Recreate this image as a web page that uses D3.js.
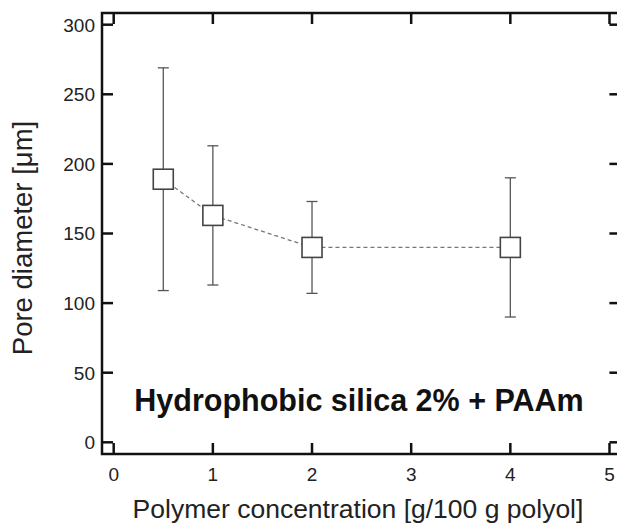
<!DOCTYPE html>
<html>
<head>
<meta charset="utf-8">
<script src="https://cdn.jsdelivr.net/npm/d3@7"></script>
<style>
  html, body { margin: 0; padding: 0; background: #fff; }
  svg { display: block; font-family: "Liberation Sans", Arial, sans-serif; }
</style>
</head>
<body>
<svg id="chart" width="617" height="525"></svg>
<script>
// data
const concentration = [0.5, 1, 2, 4];
const poreDiameter = [189, 163, 140, 140];
const poreError = [80, 50, 33, 50];
const xTicks = [0, 1, 2, 3, 4, 5];
const yTicks = [0, 50, 100, 150, 200, 250, 300];
const annotation = "Hydrophobic silica 2% + PAAm";

function drawPoreChart() {
    const svg = d3.select("#chart");

    const left = 102, right = 620.4, top = 13, bottom = 454;

    const xScale = d3.scaleLinear().domain([-0.118, 5.11]).range([left, right]);
    const yScale = d3.scaleLinear().domain([-8.4, 308.4]).range([bottom, top]);

    const data = concentration.map((c, i) => ({ x: c, y: poreDiameter[i], e: poreError[i] }));

    const tickLen = 11;
    const axisColor = "#111";
    const axisWidth = 2.5;

    // inward ticks on all four sides
    const ticks = svg.append("g")
        .attr("stroke", axisColor)
        .attr("stroke-width", axisWidth);

    ticks.selectAll(".xb").data(xTicks).join("line")
        .attr("class", "xb")
        .attr("x1", d => xScale(d)).attr("x2", d => xScale(d))
        .attr("y1", bottom).attr("y2", bottom - tickLen);
    ticks.selectAll(".xt").data(xTicks).join("line")
        .attr("class", "xt")
        .attr("x1", d => xScale(d)).attr("x2", d => xScale(d))
        .attr("y1", top).attr("y2", top + tickLen);
    ticks.selectAll(".yl").data(yTicks).join("line")
        .attr("class", "yl")
        .attr("x1", left).attr("x2", left + tickLen)
        .attr("y1", d => yScale(d)).attr("y2", d => yScale(d));
    ticks.selectAll(".yr").data(yTicks).join("line")
        .attr("class", "yr")
        .attr("x1", right).attr("x2", right - tickLen)
        .attr("y1", d => yScale(d)).attr("y2", d => yScale(d));

    // frame
    svg.append("rect")
        .attr("x", left).attr("y", top)
        .attr("width", right - left).attr("height", bottom - top)
        .attr("fill", "none")
        .attr("stroke", axisColor)
        .attr("stroke-width", axisWidth);

    // tick labels
    svg.append("g").selectAll("text").data(xTicks).join("text")
        .attr("x", d => xScale(d))
        .attr("y", 481)
        .attr("text-anchor", "middle")
        .attr("font-size", 19)
        .attr("fill", "#222")
        .text(d => d);

    svg.append("g").selectAll("text").data(yTicks).join("text")
        .attr("x", 95)
        .attr("y", d => yScale(d))
        .attr("dy", "0.36em")
        .attr("text-anchor", "end")
        .attr("font-size", 19)
        .attr("fill", "#222")
        .text(d => d);

    // axis titles
    svg.append("text")
        .attr("x", 358)
        .attr("y", 518)
        .attr("text-anchor", "middle")
        .attr("font-size", 26.5)
        .attr("fill", "#222")
        .text("Polymer concentration [g/100 g polyol]");

    svg.append("text")
        .attr("transform", `translate(32, ${238}) rotate(-90)`)
        .attr("text-anchor", "middle")
        .attr("font-size", 27.5)
        .attr("fill", "#222")
        .text("Pore diameter [\u03bcm]");

    // dashed connecting line
    svg.append("path")
        .datum(data)
        .attr("fill", "none")
        .attr("stroke", "#777")
        .attr("stroke-width", 1.3)
        .attr("stroke-dasharray", "4,3")
        .attr("d", d3.line().x(d => xScale(d.x)).y(d => yScale(d.y)));

    // error bars
    const capW = 11;
    const bars = svg.append("g")
        .attr("stroke", "#555")
        .attr("stroke-width", 1.3);

    bars.selectAll(".v").data(data).join("line")
        .attr("class", "v")
        .attr("x1", d => xScale(d.x)).attr("x2", d => xScale(d.x))
        .attr("y1", d => yScale(d.y - d.e)).attr("y2", d => yScale(d.y + d.e));
    bars.selectAll(".ct").data(data).join("line")
        .attr("class", "ct")
        .attr("x1", d => xScale(d.x) - capW / 2).attr("x2", d => xScale(d.x) + capW / 2)
        .attr("y1", d => yScale(d.y + d.e)).attr("y2", d => yScale(d.y + d.e));
    bars.selectAll(".cb").data(data).join("line")
        .attr("class", "cb")
        .attr("x1", d => xScale(d.x) - capW / 2).attr("x2", d => xScale(d.x) + capW / 2)
        .attr("y1", d => yScale(d.y - d.e)).attr("y2", d => yScale(d.y - d.e));

    // square markers
    const size = 20;
    svg.append("g").selectAll("rect").data(data).join("rect")
        .attr("x", d => xScale(d.x) - size / 2)
        .attr("y", d => yScale(d.y) - size / 2)
        .attr("width", size)
        .attr("height", size)
        .attr("fill", "#fff")
        .attr("stroke", "#444")
        .attr("stroke-width", 1.6);

    // annotation
    svg.append("text")
        .attr("x", 359)
        .attr("y", 411)
        .attr("text-anchor", "middle")
        .attr("font-size", 30.5)
        .attr("font-weight", "bold")
        .attr("fill", "#111")
        .text(annotation);
}

drawPoreChart();
</script>
</body>
</html>
